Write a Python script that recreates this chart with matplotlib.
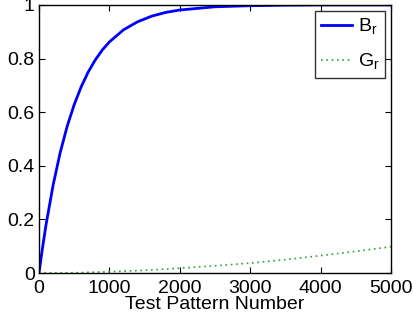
import matplotlib
matplotlib.use('Agg')
import matplotlib.pyplot as plt
from matplotlib.ticker import FormatStrFormatter

plt.rcParams['font.family'] = ['Liberation Sans', 'DejaVu Sans']
plt.rcParams['mathtext.fontset'] = 'custom'
plt.rcParams['mathtext.rm'] = 'Liberation Sans'

# values
pattern_b = [0, 50, 100, 200, 300, 400, 500, 600, 700, 800, 900, 1000,
             1200, 1400, 1600, 1800, 2000, 2500, 3000, 3500, 4000, 5000]
b_r = [0.0, 0.094, 0.180, 0.327, 0.448, 0.547, 0.628, 0.695, 0.750, 0.795,
       0.832, 0.862, 0.907, 0.937, 0.958, 0.972, 0.981, 0.993, 0.997, 0.999,
       1.0, 1.0]

pattern_g = [0, 500, 1000, 1500, 2000, 2500, 3000, 3500, 4000, 4500, 5000]
g_r = [0.0, 0.001, 0.005, 0.010, 0.018, 0.027, 0.037, 0.050, 0.065, 0.081, 0.098]

x_ticks = [0, 1000, 2000, 3000, 4000, 5000]
y_ticks = [0, 0.2, 0.4, 0.6, 0.8, 1]

fig = plt.figure(figsize=(4.13, 3.27), dpi=100)
ax = fig.add_axes([0.0944, 0.165, 0.8523, 0.82])

ax.plot(pattern_b, b_r, color='#0000ff', lw=2, label=r'B$_\mathregular{r}$')
ax.plot(pattern_g, g_r, color='#33a033', lw=1.2, linestyle=(0, (1, 2.2)),
        label=r'G$_\mathregular{r}$')

ax.set_xlim(0, 5000)
ax.set_ylim(0, 1)
ax.set_xticks(x_ticks)
ax.set_yticks(y_ticks)
ax.yaxis.set_major_formatter(FormatStrFormatter('%g'))
ax.tick_params(direction='in', length=4, width=0.8, top=True, right=True,
               labelsize=14)
ax.tick_params(axis='x', pad=5)
ax.tick_params(axis='y', pad=3)
for s in ax.spines.values():
    s.set_linewidth(1)

ax.set_xlabel('Test Pattern Number', fontsize=14, labelpad=-1)

leg = ax.legend(loc='upper right', fontsize=14, frameon=True, fancybox=False,
                edgecolor='black', handlelength=1.6, handletextpad=0.3,
                borderpad=0.3, labelspacing=0.75, borderaxespad=0,
                bbox_to_anchor=(0.983, 0.978))
leg.get_frame().set_linewidth(1)

fig.savefig('out.png', dpi=100)
